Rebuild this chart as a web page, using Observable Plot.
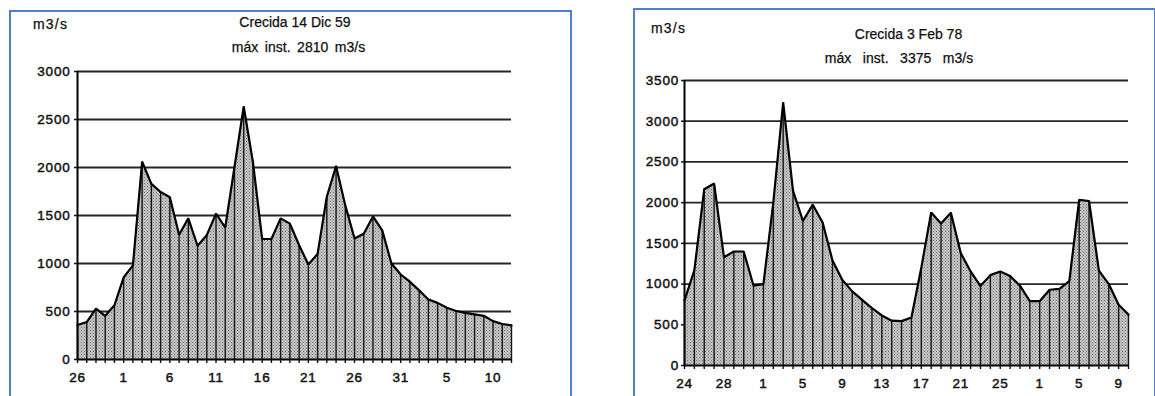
<!DOCTYPE html>
<html>
<head>
<meta charset="utf-8">
<script src="https://cdn.jsdelivr.net/npm/d3@7"></script>
<script src="https://cdn.jsdelivr.net/npm/@observablehq/plot@0.6"></script>
<style>
  html, body { margin: 0; padding: 0; background: #fff; }
  body { width: 1155px; height: 396px; overflow: hidden; position: relative;
         font-family: "Liberation Sans", Arial, Helvetica, sans-serif; color: #111; }
  .panel { position: absolute; border: 2px solid #4e7fd0; box-sizing: border-box; }
  .lbl { position: absolute; font-size: 14px; line-height: 14px; white-space: pre;
         -webkit-text-stroke: 0.25px #111; }
  .center { transform: translateX(-50%); }
  .chart { position: absolute; top: 0; }
  .chart text { stroke: #111; stroke-width: 0.45px; fill: #111; }
</style>
</head>
<body>
<script>
// Daily mean discharge (m3/s), flood of December 1959
const dic59Start = "1959-11-26";
const dic59Flow = [
  360, 390, 530, 455, 565, 855, 980, 2060, 1830, 1745, 1690, 1300,
  1470, 1185, 1295, 1520, 1375, 2005, 2635, 2055, 1255, 1255, 1470, 1415,
  1190, 990, 1100, 1695, 2015, 1605, 1260, 1310, 1490, 1345, 1000, 885,
  810, 720, 625, 590, 540, 505, 485, 470, 455, 400, 370, 355
];
const dic59Title = "Crecida 14 Dic 59";
const dic59Peak = "máx inst. 2810 m3/s";
const dic59LabelEvery = 5;
const dic59YMax = 3000;

// Daily mean discharge (m3/s), flood of February 1978
const feb78Start = "1978-01-24";
const feb78Flow = [
  800, 1170, 2165, 2235, 1330, 1400, 1400, 980, 1000, 2000, 3230, 2145,
  1775, 1975, 1755, 1290, 1050, 910, 805, 705, 615, 550, 545, 590,
  1200, 1880, 1745, 1875, 1380, 1155, 975, 1110, 1155, 1100, 980, 790,
  790, 930, 940, 1035, 2035, 2020, 1165, 1000, 745, 625
];
const feb78Title = "Crecida 3 Feb 78";
const feb78Peak = "máx inst. 3375 m3/s";
const feb78LabelEvery = 4;
const feb78YMax = 3500;

const unitLabel = "m3/s";

function addText(text, left, baseline, cls, extraStyle = {}) {
  const el = document.createElement("div");
  el.className = "lbl " + cls;
  el.textContent = text;
  el.style.left = left + "px";
  el.style.top = (baseline - 11.85) + "px";
  Object.assign(el.style, extraStyle);
  document.body.appendChild(el);
}

function addPanel(left, top, width, height) {
  const el = document.createElement("div");
  el.className = "panel";
  Object.assign(el.style, {left: left + "px", top: top + "px", width: width + "px", height: height + "px"});
  document.body.appendChild(el);
}

function floodChart({id, start, flow, yMax, labelEvery, left, width, margins, yTick, xPad}) {
  const t0 = new Date(start);
  const data = flow.map((v, i) => ({date: d3.utcDay.offset(t0, i), flow: v}));
  const dates = data.map(d => d.date);
  const labelDates = dates.filter((d, i) => i % labelEvery === 0);
  const levels = d3.range(0, yMax + 1, 500);

  const svg = Plot.plot({
    width,
    height: 396,
    ...margins,
    style: {
      fontFamily: '"Liberation Sans", Arial, Helvetica, sans-serif',
      fontSize: "13.5px",
      letterSpacing: "0.8px",
      color: "#111",
      background: "transparent",
      overflow: "visible"
    },
    x: {type: "utc", domain: [dates[0], dates[dates.length - 1]]},
    y: {domain: [0, yMax]},
    marks: [
      Plot.ruleY(levels.filter(v => v > 0), {stroke: "#262626", strokeWidth: 1.8}),
      Plot.areaY(data, {x: "date", y: "flow", fill: `url(#${id})`}),
      Plot.ruleX(data, {x: "date", y1: 0, y2: "flow", stroke: "#161616", strokeWidth: 1.4}),
      Plot.lineY(data, {x: "date", y: "flow", stroke: "#000", strokeWidth: 2.2, strokeLinejoin: "miter"}),
      Plot.ruleY([0], {stroke: "#000", strokeWidth: 2}),
      Plot.ruleX([dates[0]], {y1: 0, y2: yMax, stroke: "#000", strokeWidth: 2}),
      Plot.axisY({ticks: levels, tickSize: yTick[0], tickPadding: yTick[1], tickFormat: d => String(d), label: null, strokeWidth: 1.5}),
      Plot.axisX({ticks: dates, tickSize: 4, tickFormat: () => "", label: null, strokeWidth: 1.4}),
      Plot.axisX({ticks: labelDates, tickSize: 0, tickPadding: xPad, tickFormat: d3.utcFormat("%-d"), label: null})
    ]
  });

  // stippled grey fill under the hydrograph
  const ns = "http://www.w3.org/2000/svg";
  const defs = document.createElementNS(ns, "defs");
  defs.innerHTML =
    `<pattern id="${id}" width="3" height="3" patternUnits="userSpaceOnUse">` +
    `<rect width="3" height="3" fill="#c2c2c2"/>` +
    `<rect width="1" height="1" fill="#777"/>` +
    `<rect x="1.5" y="1.5" width="1" height="1" fill="#999"/>` +
    `</pattern>`;
  svg.insertBefore(defs, svg.firstChild);

  svg.classList.add("chart");
  svg.style.left = left + "px";
  document.body.appendChild(svg);
}

// Left panel: December 1959
addPanel(9, 9.5, 563, 400);
floodChart({
  id: "stipple59", start: dic59Start, flow: dic59Flow, yMax: dic59YMax, labelEvery: dic59LabelEvery,
  left: 0, width: 580,
  margins: {marginLeft: 77, marginRight: 69, marginTop: 71, marginBottom: 37},
  yTick: [3, 4], xPad: 13
});
addText(unitLabel, 33, 29, "", {letterSpacing: "1.2px"});
addText(dic59Title, 295, 27, "center");
addText(dic59Peak, 298.5, 52, "center", {wordSpacing: "2.7px"});

// Right panel: February 1978
addPanel(632.5, 7.5, 523, 400);
floodChart({
  id: "stipple78", start: feb78Start, flow: feb78Flow, yMax: feb78YMax, labelEvery: feb78LabelEvery,
  left: 600, width: 555,
  margins: {marginLeft: 84, marginRight: 27, marginTop: 80, marginBottom: 31},
  yTick: [3, 2.5], xPad: 12.5
});
addText(unitLabel, 651, 33, "", {letterSpacing: "1.2px"});
addText(feb78Title, 908.5, 39, "center");
addText(feb78Peak, 899, 62.5, "center", {wordSpacing: "7.7px"});
</script>
</body>
</html>
